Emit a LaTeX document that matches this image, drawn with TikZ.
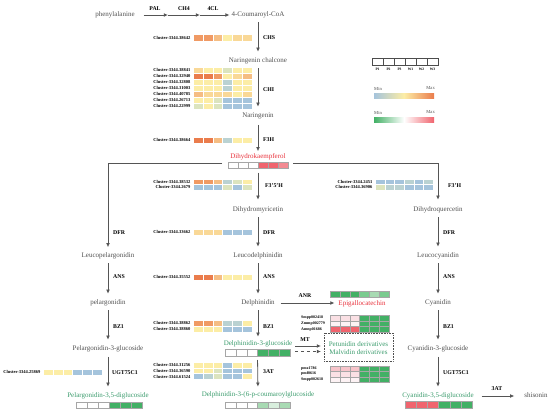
\documentclass[tikz,border=0pt]{standalone}
\usepackage{fontspec}
\setmainfont{Liberation Serif}
\usetikzlibrary{arrows.meta}
\definecolor{txtgray}{HTML}{505050}
\definecolor{linegray}{HTML}{555555}
\definecolor{redtxt}{HTML}{E8303A}
\definecolor{greentxt}{HTML}{3A9B6C}
\definecolor{h1}{HTML}{EA7C4C}
\definecolor{h2}{HTML}{F09A64}
\definecolor{h3}{HTML}{F5BD83}
\definecolor{h35}{HTML}{F9D897}
\definecolor{h4}{HTML}{FCEDA6}
\definecolor{h5}{HTML}{DCE4BE}
\definecolor{h6}{HTML}{BAD2D2}
\definecolor{h7}{HTML}{A5C4DC}
\definecolor{g1}{HTML}{42B065}
\definecolor{g2}{HTML}{7ACB8F}
\definecolor{g3}{HTML}{A8DAB3}
\definecolor{g4}{HTML}{D8EEDD}
\definecolor{r1}{HTML}{F0646E}
\definecolor{r2}{HTML}{F38A92}
\definecolor{p1}{HTML}{F7C4CA}
\definecolor{p2}{HTML}{FAE0E4}
\definecolor{p3}{HTML}{FDF2F4}
\newcommand{\hm}[6]{%
  \foreach \cc [count=\ii from 0] in {#6} {\path[#5, fill=\cc] ({#1+\ii*#3},{#2}) rectangle ++(#3,#4);}}
\tikzset{
  comp/.style={font=\fontsize{7}{8}\selectfont, text=txtgray, inner sep=0pt, outer sep=0pt, text height=5pt, text depth=1.5pt},
  enz/.style={font=\bfseries\fontsize{5.8}{6.5}\selectfont, inner sep=0pt, anchor=west},
  enzc/.style={font=\bfseries\fontsize{5.8}{6.5}\selectfont, inner sep=0pt},
  clab/.style={font=\bfseries\fontsize{4.5}{5}\selectfont, inner sep=0pt, anchor=east},
  mlab/.style={font=\bfseries\fontsize{4}{4.5}\selectfont, inner sep=0pt, anchor=west},
  flow/.style={draw=linegray, line width=0.8pt, -{Latex[length=4.2pt,width=3.8pt]}, shorten <=4pt, shorten >=6pt},
  yb/.style={draw=white, line width=0.3pt},
  rg/.style={draw=gray!70, line width=0.3pt},
  hbox/.style={inner sep=0pt, outer sep=0pt}
}
\begin{document}
\begin{tikzpicture}[x=1pt,y=-1pt]
\useasboundingbox (0,0) rectangle (550,415);
% compounds
\node[comp] (phe) at (115,15) {phenylalanine};
\node[comp] (coa) at (258,15) {4-Coumaroyl-CoA};
\node[comp] (nch) at (258,61) {Naringenin chalcone};
\node[comp] (nar) at (258,116) {Naringenin};
\node[comp, text=redtxt] (dhk) at (258,157) {Dihydrokaempferol};
\node[comp] (dmy) at (258,210) {Dihydromyricetin};
\node[comp] (dqu) at (438,210) {Dihydroquercetin};
\node[comp] (lde) at (258,256) {Leucodelphinidin};
\node[comp] (lpe) at (108,256) {Leucopelargonidin};
\node[comp] (lcy) at (438,256) {Leucocyanidin};
\node[comp] (del) at (258,303) {Delphinidin};
\node[comp] (pel) at (108,303) {pelargonidin};
\node[comp] (cya) at (438,303) {Cyanidin};
\node[comp, text=redtxt] (epi) at (362,304) {Epigallocatechin};
\node[comp, text=greentxt] (d3g) at (258,344) {Delphinidin-3-glucoside};
\node[comp] (p3g) at (108,349) {Pelargonidin-3-glucoside};
\node[comp] (c3g) at (438,349) {Cyanidin-3-glucoside};
\node[comp, text=greentxt] (dcg) at (258,395) {Delphinidin-3-(6-p-coumaroylglucoside};
\node[comp, text=greentxt] (p35) at (108,396) {Pelargonidin-3,5-diglucoside};
\node[comp, text=greentxt] (c35) at (438,396) {Cyanidin-3,5-diglucoside};
\node[comp] (shi) at (536,396) {shisonin};
% heatmap anchor boxes
\node[hbox, minimum width=60pt, minimum height=6.5pt] (dkhm) at (258,165.25) {};
\node[hbox, minimum width=65pt, minimum height=6.5pt] (d3hm) at (257.5,352.75) {};
\node[hbox, minimum width=69pt, minimum height=28pt, draw=txtgray, densely dotted, line width=0.6pt] (mtbox) at (358.5,347) {};
\node[comp, text=greentxt] (petu) at (358.5,344.5) {Petunidin derivatives};
\node[comp, text=greentxt] (malv) at (358.5,353) {Malvidin derivatives};
% top horizontal chain
\coordinate (c1) at (168,15);
\coordinate (c2) at (200,15);
\draw[flow, shorten <=9pt, shorten >=0pt] (phe.east) -- (c1);
\draw[flow, shorten <=0pt, shorten >=0pt] (c1) -- (c2);
\draw[flow, shorten <=0pt, shorten >=2pt] (c2) -- (coa.west);
\node[enzc] (pal) at (155,9) {PAL};
\node[enzc] (ch4) at (184,9) {CH4};
\node[enzc] (cl4) at (213,9) {4CL};
% main column
\draw[flow] (coa.south) -- (nch.north);
\draw[flow] (nch.south) -- (nar.north);
\draw[flow, shorten <=5.5pt, shorten >=2.5pt] (nar.south) -- (dhk.north);
\draw[flow, shorten >=7pt] (dkhm.south) -- (dmy.north);
\draw[flow, shorten <=6pt, shorten >=5.5pt] ([yshift=2pt]dkhm.west) -| (lpe.north);
\draw[flow, shorten <=5pt, shorten >=7pt] ([yshift=2pt]dkhm.east) -| (dqu.north);
\draw[flow] (dmy.south) -- (lde.north);
\draw[flow] (dqu.south) -- (lcy.north);
\draw[flow] (lpe.south) -- (pel.north);
\draw[flow] (lde.south) -- (del.north);
\draw[flow] (lcy.south) -- (cya.north);
\draw[flow] (pel.south) -- (p3g.north);
\draw[flow, shorten >=4pt] (del.south) -- (d3g.north);
\draw[flow] (cya.south) -- (c3g.north);
\draw[flow, shorten <=4.5pt] (p3g.south) -- (p35.north);
\draw[flow, shorten <=4.5pt] (c3g.south) -- (c35.north);
\draw[flow, shorten >=5pt] (d3hm.south) -- (dcg.north);
\draw[flow, shorten <=6pt, shorten >=4pt] (del.east) -- (del.east -| epi.west);
\coordinate (mts) at (295,346);
\coordinate (mtd) at (295,351.5);
\draw[flow, shorten <=0pt, shorten >=3pt] (mts) -- (mts -| mtbox.west);
\draw[flow, dashed, shorten <=0pt, shorten >=3pt] (mtd) -- (mtd -| mtbox.west);
\draw[flow, shorten <=8pt, shorten >=10pt] (c35.east) -- (shi.west);
% enzyme labels
\node[enz] (chs) at (263,38) {CHS};
\node[enz] (chi) at (263,90) {CHI};
\node[enz] (f3h) at (263,140) {F3H};
\node[enz] (f35h) at (265,186) {F3'5'H};
\node[enz] (dfr1) at (263,233) {DFR};
\node[enz] (ans1) at (263,277) {ANS};
\node[enz] (bz11) at (263,327) {BZ1};
\node[enz] (at1) at (263,372) {3AT};
\node[enz] (dfr2) at (113,233) {DFR};
\node[enz] (ans2) at (113,277) {ANS};
\node[enz] (bz12) at (113,327) {BZ1};
\node[enz] (ugt1) at (112,373) {UGT75C1};
\node[enz] (f3ph) at (448,186) {F3'H};
\node[enz] (dfr3) at (443,233) {DFR};
\node[enz] (ans3) at (443,277) {ANS};
\node[enz] (bz13) at (443,327) {BZ1};
\node[enz] (ugt2) at (443,373) {UGT75C1};
\node[enzc] (anr) at (305,296) {ANR};
\node[enzc] (mt) at (305,340) {MT};
\node[enzc] (at2) at (497,389) {3AT};
% yellow-blue heatmaps
\hm{193}{34}{9.83}{7}{yb}{h2,h2,h3,h4,h35,h35}
\node[clab] (k1) at (190.5,37.5) {Cluster-3344.38642};
\hm{193}{67}{9.83}{6}{yb}{h35,h4,h4,h5,h4,h4}
\hm{193}{73}{9.83}{6}{yb}{h1,h1,h2,h4,h35,h3}
\hm{193}{79}{9.83}{6}{yb}{h4,h4,h4,h6,h4,h4}
\hm{193}{85}{9.83}{6}{yb}{h4,h4,h4,h6,h4,h4}
\hm{193}{91}{9.83}{6}{yb}{h3,h35,h35,h35,h4,h35}
\hm{193}{97}{9.83}{6}{yb}{h4,h4,h5,h7,h7,h7}
\hm{193}{103}{9.83}{6}{yb}{h5,h4,h5,h7,h7,h7}
\node[clab] (k2) at (190.5,70) {Cluster-3344.38841};
\node[clab] (k3) at (190.5,76) {Cluster-3344.32940};
\node[clab] (k4) at (190.5,82) {Cluster-3344.32808};
\node[clab] (k5) at (190.5,88) {Cluster-3344.31003};
\node[clab] (k6) at (190.5,94) {Cluster-3344.40785};
\node[clab] (k7) at (190.5,100) {Cluster-3344.26713};
\node[clab] (k8) at (190.5,106) {Cluster-3344.22999};
\hm{193}{137}{9.83}{6.5}{yb}{h1,h1,h3,h6,h4,h4}
\node[clab] (k9) at (190.5,140.25) {Cluster-3344.38664};
\hm{193}{179}{9.83}{5.5}{yb}{h2,h2,h3,h6,h5,h4}
\hm{193}{184.5}{9.83}{5.5}{yb}{h7,h7,h7,h5,h7,h5}
\node[clab] (k10) at (190.5,181.75) {Cluster-3344.38532};
\node[clab] (k11) at (190.5,187.25) {Cluster-3344.2679};
\hm{375}{179}{9.67}{5.5}{yb}{h7,h7,h7,h6,h7,h6}
\hm{375}{184.5}{9.67}{5.5}{yb}{h5,h6,h6,h7,h7,h7}
\node[clab] (k12) at (372.5,181.75) {Cluster-3344.2451};
\node[clab] (k13) at (372.5,187.25) {Cluster-3344.36906};
\hm{193}{229}{9.83}{6}{yb}{h35,h35,h35,h7,h7,h7}
\node[clab] (k14) at (190.5,232) {Cluster-3344.33662};
\hm{193}{274}{9.83}{6.5}{yb}{h1,h1,h3,h4,h4,h4}
\node[clab] (k15) at (190.5,277.25) {Cluster-3344.35552};
\hm{193}{320}{9.83}{6}{yb}{h2,h2,h3,h6,h6,h4}
\hm{193}{326}{9.83}{6}{yb}{h4,h4,h4,h7,h7,h7}
\node[clab] (k16) at (190.5,323) {Cluster-3344.38862};
\node[clab] (k17) at (190.5,329) {Cluster-3344.38860};
\hm{193}{362}{9.83}{5.8}{yb}{h4,h4,h4,h7,h4,h4}
\hm{193}{367.8}{9.83}{5.8}{yb}{h4,h4,h5,h7,h7,h7}
\hm{193}{373.6}{9.83}{5.8}{yb}{h7,h6,h5,h7,h7,h4}
\node[clab] (k18) at (190.5,364.9) {Cluster-3344.31256};
\node[clab] (k19) at (190.5,370.7) {Cluster-3344.36590};
\node[clab] (k20) at (190.5,376.5) {Cluster-3344.61524};
\hm{43}{369}{9.83}{6}{yb}{h4,h4,h4,h7,h7,h7}
\node[clab] (k21) at (40.5,372) {Cluster-3344.25869};
% red-green heatmaps
\hm{228}{162}{10}{6.5}{rg}{white,white,white,r1,r1,r2}
\hm{330}{291}{9.83}{6}{rg}{g1,g1,g1,g2,g3,g2}
\hm{225}{349.5}{10.83}{6.5}{rg}{white,white,white,g1,g1,g1}
\hm{225}{402}{10.83}{6.5}{rg}{white,white,white,g3,g4,g3}
\hm{76}{402}{11}{6.5}{rg}{white,white,white,g1,g1,g1}
\hm{405}{401.5}{11.17}{6.5}{rg}{r1,r1,r1,g1,g1,g1}
\hm{330}{315}{9.83}{5.67}{rg}{p2,p2,p2,g1,g1,g1}
\hm{330}{320.67}{9.83}{5.67}{rg}{p3,p3,p3,g1,g1,g1}
\hm{330}{326.33}{9.83}{5.67}{rg}{r1,r1,r1,g1,g1,g1}
\node[mlab] (m1) at (301,317.8) {Smpp002418};
\node[mlab] (m2) at (301,323.5) {Zmmp002779};
\node[mlab] (m3) at (301,329.2) {Amnp01686};
\hm{330}{366}{9.83}{5.33}{rg}{p1,p1,p1,g1,g1,g1}
\hm{330}{371.33}{9.83}{5.33}{rg}{p2,p2,p2,g1,g1,g1}
\hm{330}{376.67}{9.83}{5.33}{rg}{p3,p3,p3,g1,g1,g1}
\node[mlab] (m4) at (301,368.7) {pmz1786};
\node[mlab] (m5) at (301,374) {pmf0616};
\node[mlab] (m6) at (301,379.3) {Smpp002618};
% legend
\foreach \lab [count=\ii from 0] in {P1,P2,P3,W1,W2,W3} {
  \draw[black!70, line width=0.35pt] ({372+\ii*11},58) rectangle ++(11,7);
  \node[font=\bfseries\fontsize{3.6}{4}\selectfont, inner sep=0pt] (lg\ii) at ({377.5+\ii*11},69.5) {\lab};
}
\node[font=\fontsize{4.6}{5}\selectfont, text=txtgray, inner sep=0pt, anchor=west] (min1) at (374,88.5) {Min};
\node[font=\fontsize{4.6}{5}\selectfont, text=txtgray, inner sep=0pt, anchor=east] (max1) at (435,88.5) {Max};
\shade[left color=h7, right color=h1, middle color=h4] (374,93) rectangle (434,98.5);
\node[font=\fontsize{4.6}{5}\selectfont, text=txtgray, inner sep=0pt, anchor=west] (min2) at (374,112.5) {Min};
\node[font=\fontsize{4.6}{5}\selectfont, text=txtgray, inner sep=0pt, anchor=east] (max2) at (435,112.5) {Max};
\shade[left color=g1, right color=r1, middle color=white] (374,117) rectangle (434,122.5);
\end{tikzpicture}
\end{document}
